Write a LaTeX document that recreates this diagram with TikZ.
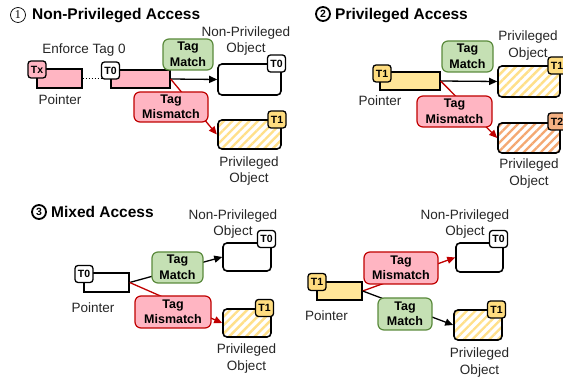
\documentclass[tikz,border=0pt]{standalone}
\usepackage{fontspec}
\setmainfont{Liberation Sans}
\newfontfamily\serifnum{Liberation Serif}
\usetikzlibrary{arrows.meta,patterns.meta}
\definecolor{pinkf}{HTML}{FFB5C2}
\definecolor{redd}{HTML}{C00000}
\definecolor{matchf}{HTML}{C5E0B4}
\definecolor{matchd}{HTML}{5A8A3C}
\definecolor{yellowf}{HTML}{FFE699}
\definecolor{yellowt}{HTML}{FFDD80}
\definecolor{yellowh}{HTML}{FFE08A}
\definecolor{orangef}{HTML}{F4B183}
\definecolor{orangeh}{HTML}{F4A872}
\begin{document}
\begin{tikzpicture}[x=1pt,y=-1pt,
  tagbox/.style={draw, rounded corners=3pt, line width=1.3pt, minimum width=18pt, minimum height=17pt, inner sep=0pt, font=\bfseries\fontsize{10.5}{11}\selectfont},
  ptrbox/.style={draw, line width=1.3pt, inner sep=0pt},
  objbox/.style={draw, rounded corners=4pt, line width=1.6pt, inner sep=0pt, fill=white},
  hatchy/.style={draw, rounded corners=4pt, line width=1.6pt, inner sep=0pt, preaction={fill=white}, pattern={Lines[angle=45,distance=6pt,line width=2.4pt]}, pattern color=yellowh},
  hatcho/.style={draw, rounded corners=4pt, line width=1.6pt, inner sep=0pt, preaction={fill=white}, pattern={Lines[angle=45,distance=6pt,line width=2.4pt]}, pattern color=orangeh},
  lblbox/.style={rounded corners=6pt, line width=1.2pt, align=center, inner sep=0pt, font=\bfseries\fontsize{12.5}{15.5}\selectfont},
  matchbox/.style={lblbox, draw=matchd, fill=matchf},
  misbox/.style={lblbox, draw=redd, fill=pinkf},
  txt/.style={align=center, inner sep=0pt, text=black!85, font=\fontsize{13.5}{16.5}\selectfont},
  title/.style={anchor=base west, inner sep=0pt, font=\bfseries\fontsize{15.5}{18}\selectfont},
  numc/.style={circle, draw, inner sep=0pt, minimum size=14pt},
  arr/.style={line width=1.3pt, -{Triangle[length=8pt,width=7pt]}},
  redarr/.style={arr, draw=redd, color=redd}
]
\useasboundingbox (0,0) rectangle (563,379);

% ---------- titles ----------
\node[numc, line width=0.7pt, minimum size=15pt, font=\serifnum\fontsize{12}{12}\selectfont] (c1) at (18,15) {1};
\node[title] (ti1) at (32,19.5) {Non-Privileged Access};
\node[numc, line width=1.8pt, font=\bfseries\fontsize{10.5}{11}\selectfont] (c2) at (323,14) {2};
\node[title] (ti2) at (335,19.5) {Privileged Access};
\node[numc, line width=1.8pt, font=\bfseries\fontsize{10.5}{11}\selectfont] (c3) at (39,212) {3};
\node[title] (ti3) at (51,218) {Mixed Access};

% ---------- panel 1 ----------
\node[txt] (en1) at (84,50) {Enforce Tag 0};
\node[ptrbox, fill=pinkf, minimum width=45pt, minimum height=19pt] (p1a) at (59.5,78.5) {};
\node[tagbox, fill=pinkf] (tx1) at (37,69.5) {Tx};
\node[txt] (pt1) at (60,100) {Pointer};
\node[ptrbox, fill=pinkf, minimum width=59pt, minimum height=18pt] (p1b) at (140.5,79) {};
\node[tagbox, fill=white] (t01) at (110.5,70.5) {T0};
\draw[line width=1pt, dotted] (p1a.east) -- (p1a.east -| t01.west);
\node[objbox, minimum width=63pt, minimum height=31pt] (o1a) at (249.5,79.5) {};
\node[tagbox, fill=white] (o1at) at (276.5,63.5) {T0};
\node[txt] (l1a) at (246,41) {Non-Privileged\\Object};
\node[hatchy, minimum width=63pt, minimum height=29pt] (o1b) at (249.5,134.5) {};
\node[tagbox, fill=yellowt] (o1bt) at (277,119.5) {T1};
\node[txt] (l1b) at (249,171) {Privileged\\Object};
\draw[arr] (p1b.east) -- (o1a.west);
\draw[redarr] (p1b.east) -- (o1b.west);
\node[matchbox, minimum width=50pt, minimum height=31pt] (m1) at (188,54.5) {Tag\\Match};
\node[misbox, minimum width=74pt, minimum height=30pt] (mm1) at (171,107) {Tag\\Mismatch};

% ---------- panel 2 ----------
\node[ptrbox, fill=yellowf, minimum width=60pt, minimum height=18pt] (p2) at (410,81) {};
\node[tagbox, fill=yellowt] (t2) at (382,73.5) {T1};
\node[txt] (pt2) at (380,101) {Pointer};
\node[hatchy, minimum width=62pt, minimum height=31pt] (o2a) at (529,81.5) {};
\node[tagbox, fill=yellowt] (o2at) at (557,65.5) {T1};
\node[txt] (l2a) at (528,45.5) {Privileged\\Object};
\node[hatcho, minimum width=62pt, minimum height=30pt] (o2b) at (529,138) {};
\node[tagbox, fill=orangef] (o2bt) at (557,121.5) {T2};
\node[txt] (l2b) at (529,173.5) {Privileged\\Object};
\draw[arr] (p2.east) -- (o2a.west);
\draw[redarr] (p2.east) -- (o2b.west);
\node[matchbox, minimum width=51pt, minimum height=31pt] (m2) at (467.5,56.5) {Tag\\Match};
\node[misbox, minimum width=75pt, minimum height=31pt] (mm2) at (454.5,111.5) {Tag\\Mismatch};

% ---------- panel 3 ----------
\node[ptrbox, fill=white, minimum width=45pt, minimum height=19pt] (p3) at (106.5,282.5) {};
\node[tagbox, fill=white] (t3) at (84,274) {T0};
\node[txt] (pt3) at (93,308) {Pointer};
\node[objbox, minimum width=48pt, minimum height=28pt] (o3a) at (247,257) {};
\node[tagbox, fill=white] (o3at) at (266.5,239) {T0};
\node[txt] (l3a) at (233,224) {Non-Privileged\\Object};
\node[hatchy, minimum width=48pt, minimum height=28pt] (o3b) at (247,323) {};
\node[tagbox, fill=yellowt] (o3bt) at (264.5,308) {T1};
\node[txt] (l3b) at (246.5,358.5) {Privileged\\Object};
\draw[arr] (p3.east) -- (o3a.west);
\draw[redarr] (p3.east) -- (o3b.west);
\node[matchbox, minimum width=51pt, minimum height=31pt] (m3) at (177.5,267.5) {Tag\\Match};
\node[misbox, minimum width=76pt, minimum height=32pt] (mm3) at (173,312) {Tag\\Mismatch};

% ---------- panel 4 ----------
\node[ptrbox, fill=yellowf, minimum width=45pt, minimum height=18pt] (p4) at (339.5,291) {};
\node[tagbox, fill=yellowt] (t4) at (317,282) {T1};
\node[txt] (pt4) at (326.5,316) {Pointer};
\node[objbox, minimum width=47pt, minimum height=29pt] (o4a) at (479.5,257.5) {};
\node[tagbox, fill=white] (o4at) at (498.5,239) {T0};
\node[txt] (l4a) at (465,224) {Non-Privileged\\Object};
\node[hatchy, minimum width=48pt, minimum height=30pt] (o4b) at (478,325) {};
\node[tagbox, fill=yellowt] (o4bt) at (496.5,309.5) {T1};
\node[txt] (l4b) at (479.5,362.5) {Privileged\\Object};
\draw[redarr] (p4.east) -- (o4a.west);
\draw[arr] (p4.east) -- (o4b.west);
\node[misbox, minimum width=74pt, minimum height=32pt] (mm4) at (401,268) {Tag\\Mismatch};
\node[matchbox, minimum width=54pt, minimum height=32pt] (m4) at (405,314) {Tag\\Match};
\end{tikzpicture}
\end{document}
